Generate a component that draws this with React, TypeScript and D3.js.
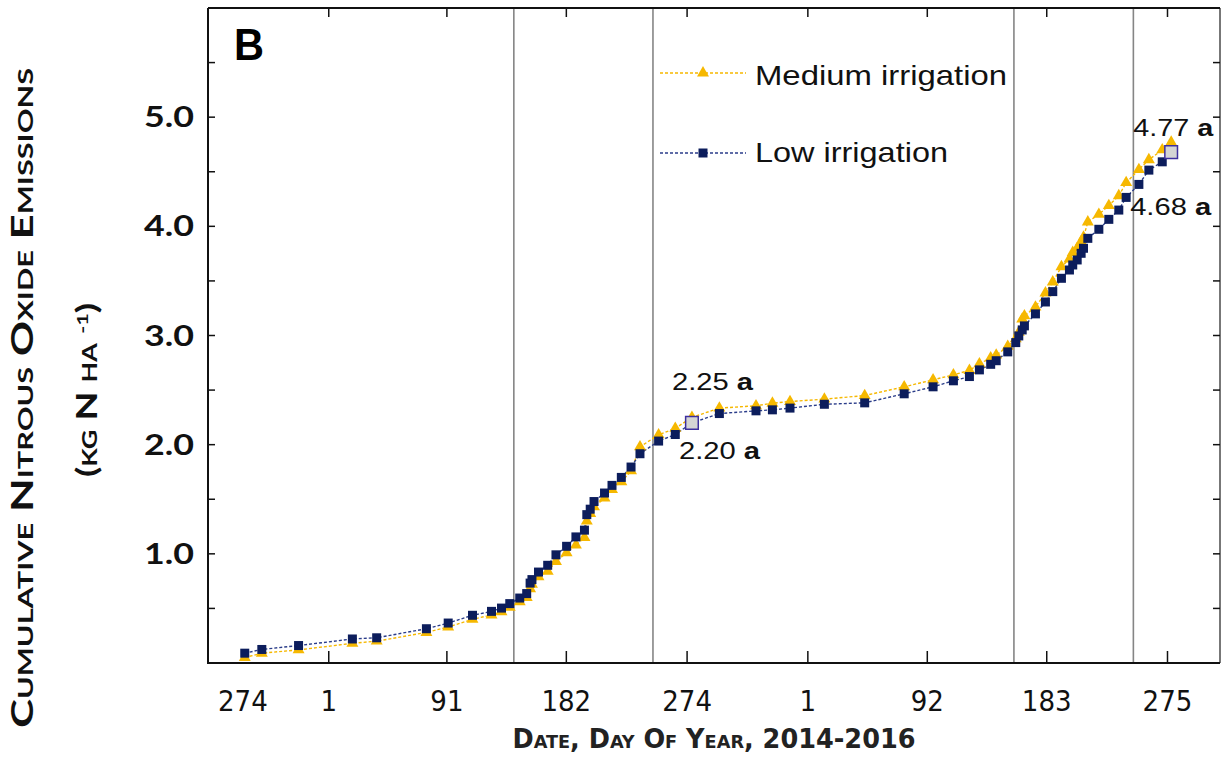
import React from 'react';
import * as d3 from 'd3';

// days counted from 1 Jan 2015 (day 1 of 2015 = 0)
const sampleDays = [
  -64, -51, -23, 18, 36.5, 74.4, 91, 109.5, 124, 131.6, 137.9, 145.5, 150.8, 153.4, 154.8, 159.8,
  166.8, 173.1, 181.2, 188.3, 194.8, 196.6, 199.2, 202.1, 210.1, 215.8, 222.9, 230.3, 237.1, 251.3,
  264, 276.7, 297.6, 325.5, 338, 351.4, 377.6, 408.3, 438.4, 460.4, 475.9, 488.1, 495.7, 504.3,
  508.5, 517.3, 523.4, 525.7, 528.3, 530, 538.4, 546, 551.6, 558.2, 564.3, 566.8, 570.2, 573.2,
  575, 578.3, 586.7, 594.3, 601.9, 607.5, 617.2, 624.8, 635, 641.8,
];

const lowIrrigation = [
  0.09, 0.124, 0.16, 0.22, 0.231, 0.314, 0.366, 0.437, 0.473, 0.503, 0.544, 0.595, 0.636, 0.732, 0.764, 0.833,
  0.895, 0.991, 1.069, 1.155, 1.217, 1.359, 1.409, 1.479, 1.557, 1.627, 1.7, 1.795, 1.917, 2.033,
  2.093, 2.2, 2.285, 2.31, 2.319, 2.335, 2.37, 2.383, 2.466, 2.53, 2.585, 2.624, 2.685, 2.736,
  2.769, 2.85, 2.935, 2.996, 3.051, 3.088, 3.198, 3.307, 3.402, 3.524, 3.6, 3.646, 3.692, 3.753,
  3.799, 3.89, 3.973, 4.064, 4.149, 4.265, 4.384, 4.515, 4.591, 4.68,
];

const mediumIrrigation = [
  0.05, 0.09, 0.12, 0.18, 0.2, 0.28, 0.33, 0.4, 0.44, 0.47, 0.51, 0.56, 0.6, 0.68, 0.72, 0.79,
  0.84, 0.93, 1.01, 1.08, 1.15, 1.3, 1.37, 1.43, 1.51, 1.59, 1.66, 1.76, 1.98, 2.09,
  2.15, 2.25, 2.335, 2.356, 2.38, 2.395, 2.417, 2.45, 2.53, 2.594, 2.64, 2.68, 2.74, 2.795,
  2.82, 2.9, 2.97, 3.03, 3.15, 3.18, 3.26, 3.39, 3.49, 3.63, 3.7, 3.76, 3.8, 3.86,
  3.9, 4.04, 4.11, 4.19, 4.28, 4.4, 4.52, 4.61, 4.7, 4.77,
];

const seasonBreakDays = [141, 247, 522, 613];
const xTickDays = [0, 90, 181, 273, 365, 456, 547, 639];
const xLabelDays = [-92, 0, 90, 181, 273, 365, 456, 547, 639];
const xLabels = ['274', '1', '91', '182', '274', '1', '92', '183', '275'];
const yTickValues = [0.5, 1, 1.5, 2, 2.5, 3, 3.5, 4, 4.5, 5, 5.5];
const yLabelValues = [1, 2, 3, 4, 5];

const GOLD = '#f6b800';
const NAVY = '#0c1d5c';

const left = 208, right = 1220, top = 8, bottom = 663;

export default function App() {
  const x = d3.scaleLinear().domain([-92, 679]).range([left, right]);
  const y = d3.scaleLinear().domain([0, 6]).range([bottom, top]);

  const low = sampleDays.map((d, i) => ({ d, v: lowIrrigation[i] }));
  const med = sampleDays.map((d, i) => ({ d, v: mediumIrrigation[i] }));
  const line = d3.line<{ d: number; v: number }>().x(p => x(p.d)).y(p => y(p.v));

  const tri = d3.symbol(d3.symbolTriangle, 62)()!;
  const sq = d3.symbol(d3.symbolSquare, 81)()!;
  const endSq = d3.symbol(d3.symbolSquare, 160)()!;

  const endA = 31; // index of first season end
  const endB = sampleDays.length - 1;

  const ann = { fontFamily: 'Liberation Sans, Arial, sans-serif', fontSize: 24, fill: '#111' };

  return (
    <svg width={1226} height={757} style={{ position: 'absolute', left: 0, top: 0, background: '#fff' }}>
      {/* panel letter */}
      <text x={234} y={60} fontFamily="Liberation Sans, Arial, sans-serif" fontWeight="bold" fontSize={44} textLength={30} lengthAdjust="spacingAndGlyphs">B</text>

      {/* season separators */}
      {seasonBreakDays.map(d => (
        <line key={d} x1={x(d)} x2={x(d)} y1={top} y2={bottom} stroke="#858585" strokeWidth={1.6} />
      ))}

      {/* frame */}
      <line x1={right} x2={right} y1={top} y2={bottom} stroke="#555" strokeWidth={1.6} />
      <path d={`M${left},${top}H${right}M${left},${top}V${bottom}H${right}`} fill="none" stroke="#111" strokeWidth={2} />

      {/* x ticks */}
      {xTickDays.map(d => (
        <g key={d}>
          <line x1={x(d)} x2={x(d)} y1={bottom} y2={bottom - 12} stroke="#111" strokeWidth={1.5} />
          <line x1={x(d)} x2={x(d)} y1={top} y2={top + 9} stroke="#111" strokeWidth={1.5} />
        </g>
      ))}
      {/* y ticks */}
      {yTickValues.map(v => (
        <g key={v}>
          <line x1={left} x2={left + 7} y1={y(v)} y2={y(v)} stroke="#111" strokeWidth={1.5} />
          <line x1={right} x2={right - 7} y1={y(v)} y2={y(v)} stroke="#111" strokeWidth={1.5} />
        </g>
      ))}

      {/* y labels */}
      {yLabelValues.map(v => (
        <text key={v} x={194} y={y(v) + 10} textAnchor="end" fontFamily="Lato, 'Noto Sans', sans-serif" fontWeight="bold" fontSize={28} textLength={50} lengthAdjust="spacingAndGlyphs" fill="#111">
          {v.toFixed(1)}
        </text>
      ))}

      {/* x labels */}
      {xLabelDays.map((d, i) => (
        <text key={i} x={x(d) + (i === 0 ? 10 : 0)} y={711} textAnchor={i === 0 ? 'start' : 'middle'} fontFamily="'Liberation Sans Narrow', 'DejaVu Sans Condensed', sans-serif" fontSize={29} fill="#111">
          {xLabels[i]}
        </text>
      ))}

      {/* axis titles */}
      <text x={714} y={748} textAnchor="middle" fontFamily="'Liberation Sans Narrow', 'DejaVu Sans Condensed', sans-serif" fontWeight="bold" fontSize={26} style={{ fontVariant: 'small-caps' }} textLength={403} lengthAdjust="spacingAndGlyphs" fill="#222">
        Date, Day Of Year, 2014-2016
      </text>
      <text transform="translate(33,398) rotate(-90)" textAnchor="middle" fontFamily="Lato, 'Noto Sans', sans-serif" fontWeight="bold" fontSize={30} style={{ fontVariant: 'small-caps' }} textLength={660} lengthAdjust="spacingAndGlyphs" fill="#111">
        Cumulative Nitrous Oxide Emissions
      </text>
      <text transform="translate(97,390) rotate(-90)" textAnchor="middle" fontFamily="Lato, 'Noto Sans', sans-serif" fontWeight="bold" fontSize={28} style={{ fontVariant: 'small-caps' }} textLength={174} lengthAdjust="spacingAndGlyphs" fill="#111">
        (kg N ha <tspan dy={-9} fontSize={16}>-1</tspan><tspan dy={9}>)</tspan>
      </text>

      {/* series lines */}
      <path d={line(med)!} fill="none" stroke={GOLD} strokeWidth={1.4} strokeDasharray="3 2" />
      <path d={line(low)!} fill="none" stroke="#2b3d8a" strokeWidth={1.4} strokeDasharray="3 2" />

      {/* markers */}
      {med.map((p, i) => (
        <path key={'m' + i} d={tri} transform={`translate(${x(p.d)},${y(p.v)})`} fill={GOLD} />
      ))}
      {low.map((p, i) =>
        i === endA || i === endB ? null : (
          <path key={'l' + i} d={sq} transform={`translate(${x(p.d)},${y(p.v)})`} fill={NAVY} />
        )
      )}
      {[endA, endB].map(i => (
        <path key={'e' + i} d={endSq} transform={`translate(${x(low[i].d)},${y(low[i].v)})`} fill="#d4d4d4" stroke="#3d2f9e" strokeWidth={1.5} />
      ))}

      {/* end value annotations */}
      <text x={x(med[endA].d) - 20} y={y(med[endA].v) - 27} {...ann} textLength={81} lengthAdjust="spacingAndGlyphs">
        {mediumIrrigation[endA].toFixed(2)} <tspan fontWeight="bold">a</tspan>
      </text>
      <text x={x(low[endA].d) - 13} y={y(low[endA].v) + 36} {...ann} textLength={81} lengthAdjust="spacingAndGlyphs">
        {lowIrrigation[endA].toFixed(2)} <tspan fontWeight="bold">a</tspan>
      </text>
      <text x={x(med[endB].d) - 38} y={y(med[endB].v) - 6} {...ann} textLength={80} lengthAdjust="spacingAndGlyphs">
        {mediumIrrigation[endB].toFixed(2)} <tspan fontWeight="bold">a</tspan>
      </text>
      <text x={x(low[endB].d) - 41} y={y(low[endB].v) + 63} {...ann} textLength={81} lengthAdjust="spacingAndGlyphs">
        {lowIrrigation[endB].toFixed(2)} <tspan fontWeight="bold">a</tspan>
      </text>

      {/* legend */}
      <g>
        <line x1={660} x2={746} y1={73} y2={73} stroke={GOLD} strokeWidth={1.4} strokeDasharray="3 2" />
        <path d={tri} transform="translate(703,73)" fill={GOLD} />
        <text x={755} y={85} fontFamily="Liberation Sans, Arial, sans-serif" fontSize={28} textLength={252} lengthAdjust="spacingAndGlyphs" fill="#111">Medium irrigation</text>
        <line x1={660} x2={746} y1={153} y2={153} stroke="#2b3d8a" strokeWidth={1.4} strokeDasharray="3 2" />
        <path d={sq} transform="translate(703,153)" fill={NAVY} />
        <text x={755} y={162} fontFamily="Liberation Sans, Arial, sans-serif" fontSize={28} textLength={193} lengthAdjust="spacingAndGlyphs" fill="#111">Low irrigation</text>
      </g>
    </svg>
  );
}
